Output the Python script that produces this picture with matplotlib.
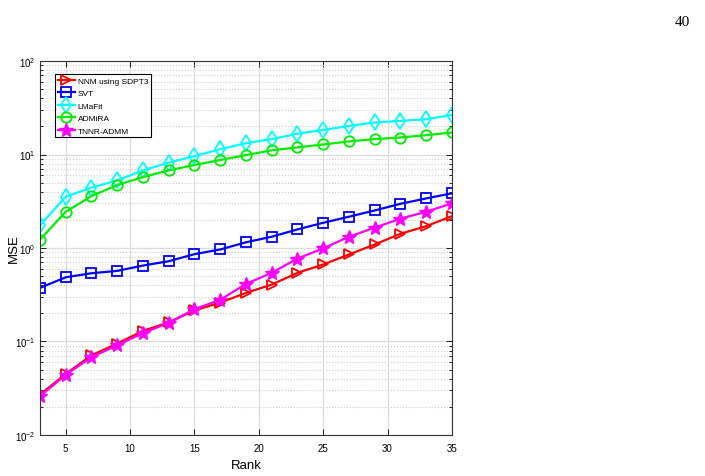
import numpy as np
import matplotlib
matplotlib.use('Agg')
import matplotlib.pyplot as plt
from matplotlib.ticker import LogLocator, NullFormatter

plt.rcParams['font.family'] = ['Liberation Sans', 'DejaVu Sans']
plt.rcParams['mathtext.fontset'] = 'custom'
plt.rcParams['mathtext.rm'] = 'Liberation Sans'
plt.rcParams['axes.unicode_minus'] = False

# Rank values and MSE per method
rank = [3, 5, 7, 9, 11, 13, 15, 17, 19, 21, 23, 25, 27, 29, 31, 33, 35]
nnm_sdpt3 = [0.027, 0.045, 0.071, 0.095, 0.13, 0.16, 0.215, 0.26, 0.331, 0.406,
             0.542, 0.666, 0.852, 1.09, 1.42, 1.71, 2.19]
svt = [0.374, 0.486, 0.537, 0.569, 0.649, 0.722, 0.859, 0.964, 1.15, 1.32,
       1.58, 1.86, 2.16, 2.52, 2.97, 3.39, 3.84]
lmafit = [1.75, 3.54, 4.42, 5.29, 6.77, 8.19, 9.6, 11.4, 13.2, 14.6,
          16.7, 18.3, 20.2, 22.0, 22.9, 23.8, 26.5]
admira = [1.23, 2.44, 3.59, 4.71, 5.74, 6.77, 7.72, 8.73, 9.85, 11.1,
          11.9, 12.8, 13.8, 14.6, 15.2, 16.1, 17.2]
tnnr_admm = [0.026, 0.044, 0.068, 0.091, 0.123, 0.158, 0.222, 0.279, 0.413, 0.542,
             0.771, 0.99, 1.32, 1.65, 2.06, 2.44, 3.0]

fig = plt.figure(figsize=(7.05, 4.77), dpi=100)
ax = fig.add_axes([0.0567, 0.086, 0.5843, 0.784])

ax.plot(rank, nnm_sdpt3, color='red', marker='>', mfc='none', ms=7.5, mew=1.3, lw=1.6, label='NNM using SDPT3')
ax.plot(rank, svt, color='blue', marker='s', mfc='none', ms=6.5, mew=1.3, lw=1.6, label='SVT')
ax.plot(rank, lmafit, color='cyan', marker='d', mfc='none', ms=8.5, mew=1.3, lw=1.6, label='LMaFit')
ax.plot(rank, admira, color='#00ee00', marker='o', mfc='none', ms=7.5, mew=1.3, lw=1.6, label='ADMiRA')
ax.plot(rank, tnnr_admm, color='magenta', marker='*', ms=10, mew=1.0, lw=1.6, label='TNNR-ADMM')

ax.set_yscale('log')
ax.set_xlim(3, 35)
ax.set_ylim(1e-2, 1e2)
ax.set_xticks([5, 10, 15, 20, 25, 30, 35])
ax.yaxis.set_major_locator(LogLocator(base=10, numticks=10))
ax.yaxis.set_minor_locator(LogLocator(base=10, subs=np.arange(2, 10), numticks=20))
ax.yaxis.set_minor_formatter(NullFormatter())

ax.grid(True, which='major', color='#dcdcdc', lw=0.9)
ax.grid(True, which='minor', axis='y', color='#cfcfcf', ls=':', lw=0.8)
ax.set_axisbelow(True)

ax.tick_params(which='both', direction='in', top=True, right=True, labelsize=7, width=0.6)
ax.tick_params(which='major', length=4)
ax.tick_params(which='minor', length=2)
ax.tick_params(axis='x', pad=6)
for s in ax.spines.values():
    s.set_color('#333333')
    s.set_linewidth(0.8)

ax.set_xlabel('Rank', fontsize=9.5)
ax.set_ylabel('MSE', fontsize=9.5)
ax.xaxis.set_label_coords(0.5, -0.064)
ax.yaxis.set_label_coords(-0.048, 0.5)

leg = ax.legend(loc='upper left', bbox_to_anchor=(0.036, 0.965), borderaxespad=0,
                fontsize=6, handlelength=2.1, handletextpad=0.3, labelspacing=0.55,
                fancybox=False, framealpha=1, edgecolor='black', borderpad=0.35)
leg.get_frame().set_linewidth(0.8)

fig.text(0.979, 0.952, '40', fontsize=11, family='Liberation Serif', ha='right', va='center')

fig.savefig('out.png', dpi=100)
